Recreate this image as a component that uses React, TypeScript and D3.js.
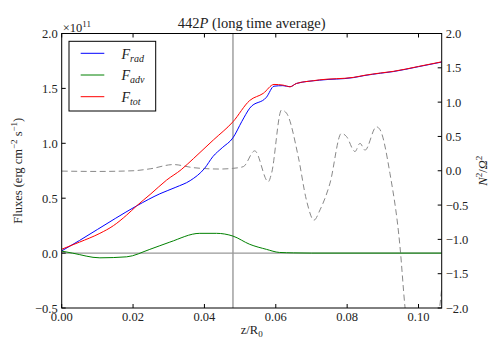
import * as d3 from "d3";

// chart frame
const width = 491;
const height = 343;
const marginTop = 33.5;
const marginRight = 49.3;
const marginBottom = 35;
const marginLeft = 61.7;

const serif = "Liberation Serif, DejaVu Serif, serif";

// data (z / R0, flux in 1e11 erg cm^-2 s^-1)
const zRad = [0, 0.005, 0.01, 0.015, 0.021, 0.0275, 0.032, 0.036, 0.04, 0.0424, 0.045, 0.048, 0.0505, 0.0527, 0.0574, 0.0595, 0.062, 0.064, 0.0658, 0.0723, 0.0817, 0.085, 0.0893, 0.0929, 0.1, 0.1065];
const fRad = [0.02, 0.115, 0.215, 0.315, 0.43, 0.54, 0.6, 0.66, 0.77, 0.88, 0.96, 1.05, 1.2, 1.32, 1.42, 1.52, 1.525, 1.515, 1.545, 1.575, 1.598, 1.618, 1.638, 1.653, 1.698, 1.74];

const zTot = [0, 0.005, 0.0107, 0.0145, 0.0182, 0.021, 0.025, 0.0294, 0.0335, 0.0369, 0.0425, 0.048, 0.0527, 0.0565, 0.0595, 0.062, 0.064, 0.0658, 0.0705, 0.0723, 0.0817, 0.085, 0.0893, 0.0929, 0.1, 0.1065];
const fTot = [0.035, 0.1, 0.18, 0.25, 0.346, 0.43, 0.54, 0.665, 0.76, 0.86, 1.03, 1.196, 1.39, 1.455, 1.536, 1.53, 1.515, 1.545, 1.57, 1.578, 1.6, 1.62, 1.64, 1.655, 1.7, 1.742];

const zAdv = [0, 0.003, 0.0107, 0.0182, 0.0247, 0.0303, 0.0387, 0.0434, 0.048, 0.0527, 0.0574, 0.061, 0.065, 0.07, 0.1065];
const fAdv = [0.018, 0.0, -0.043, -0.034, 0.034, 0.1, 0.18, 0.18, 0.155, 0.08, 0.034, 0.006, 0.002, 0.0, 0.0];

// N^2 / Omega^2, right axis
const zN2 = [0, 0.01, 0.02, 0.025, 0.0313, 0.0369, 0.0443, 0.048, 0.0509, 0.0541, 0.0579, 0.0588, 0.0616, 0.063, 0.0663, 0.0686, 0.0707, 0.0724, 0.0752, 0.0784, 0.0798, 0.0822, 0.0836, 0.085, 0.0882, 0.0892, 0.092, 0.0948, 0.0962, 0.098, 0.102, 0.105, 0.1065];
const n2 = [-0.005, -0.01, 0.0, 0.03, 0.09, 0.045, 0.025, 0.035, 0.06, 0.29, -0.16, -0.04, 0.885, 0.84, 0.205, -0.43, -0.72, -0.57, -0.18, 0.545, 0.5, 0.28, 0.4, 0.3, 0.64, 0.6, -0.04, -1.1, -1.98, -2.7, -3.0, -2.4, -1.72];

const xTicks = [0, 0.02, 0.04, 0.06, 0.08, 0.1];
const yTicks = [-0.5, 0, 0.5, 1.0, 1.5, 2.0];
const y2Ticks = [-2, -1.5, -1, -0.5, 0, 0.5, 1, 1.5, 2];
const zMark = 0.048;

const fmt1 = (v: number) => d3.format(".1f")(v).replace("-", "\u2212");
const fmt2 = (v: number) => d3.format(".2f")(v);

export default function App() {
  const x = d3.scaleLinear().domain([0, 0.1065]).range([marginLeft, width - marginRight]);
  const y = d3.scaleLinear().domain([-0.5, 2.0]).range([height - marginBottom, marginTop]);
  const y2 = d3.scaleLinear().domain([-2, 2]).range([height - marginBottom, marginTop]);

  const line = d3.line<number>().curve(d3.curveMonotoneX);
  const pathOf = (zs: number[], vs: number[], ys: d3.ScaleLinear<number, number>) =>
    line.x((_, i) => x(zs[i])).y((_, i) => ys(vs[i]))(zs) || "";

  const x0 = x.range()[0];
  const x1 = x.range()[1];
  const yB = y.range()[0];
  const yT = y.range()[1];

  return (
    <svg width={width} height={height} style={{ position: "absolute", left: 0, top: 0, fontFamily: serif }}>
      <defs>
        <clipPath id="plot">
          <rect x={x0} y={yT} width={x1 - x0} height={yB - yT} />
        </clipPath>
      </defs>
      <rect width={width} height={height} fill="#fff" />

      <g clipPath="url(#plot)" fill="none">
        <line x1={x0} x2={x1} y1={y(0)} y2={y(0)} stroke="#999" strokeWidth={1.2} />
        <line x1={x(zMark)} x2={x(zMark)} y1={yT} y2={yB} stroke="#999" strokeWidth={1.4} />
        <path d={pathOf(zN2, n2, y2)} stroke="#888" strokeWidth={1} strokeDasharray="6,3.5" />
        <path d={pathOf(zRad, fRad, y)} stroke="#0000ff" strokeWidth={1} />
        <path d={pathOf(zAdv, fAdv, y)} stroke="#008000" strokeWidth={1} />
        <path d={pathOf(zTot, fTot, y)} stroke="#ff0000" strokeWidth={1} />
      </g>

      {/* ticks */}
      <g stroke="#000" strokeWidth={1}>
        {xTicks.map((t) => (
          <g key={"x" + t}>
            <line x1={x(t)} x2={x(t)} y1={yB} y2={yB - 4} />
            <line x1={x(t)} x2={x(t)} y1={yT} y2={yT + 4} />
          </g>
        ))}
        {yTicks.map((t) => (
          <line key={"y" + t} x1={x0} x2={x0 + 4} y1={y(t)} y2={y(t)} />
        ))}
        {y2Ticks.map((t) => (
          <line key={"r" + t} x1={x1} x2={x1 - 4} y1={y2(t)} y2={y2(t)} />
        ))}
      </g>
      <rect x={x0} y={yT} width={x1 - x0} height={yB - yT} fill="none" stroke="#000" strokeWidth={1} />

      <g style={{ fontFamily: serif }} fontSize={12.5} fill="#222">
        {xTicks.map((t) => (
          <text key={"xl" + t} x={x(t)} y={yB + 13} textAnchor="middle">{fmt2(t)}</text>
        ))}
        {yTicks.map((t) => (
          <text key={"yl" + t} x={x0 - 4} y={y(t) + 4.5} textAnchor="end">{fmt1(t)}</text>
        ))}
        {y2Ticks.map((t) => (
          <text key={"rl" + t} x={x1 + 4} y={y2(t) + 4.5} textAnchor="start">{fmt1(t)}</text>
        ))}
        <text x={x0 + 1} y={yT - 2}>
          ×10<tspan fontSize={9} dy={-5}>11</tspan>
        </text>
        <text x={(x0 + x1) / 2} y={yT - 6} textAnchor="middle" fontSize={14.5}>
          442<tspan fontStyle="italic">P</tspan> (long time average)
        </text>
        <text x={(x0 + x1) / 2} y={height - 9} textAnchor="middle">
          z/R<tspan fontSize={9} dy={3}>0</tspan>
        </text>
        <text transform={`translate(22, ${(yT + yB) / 2}) rotate(-90)`} textAnchor="middle">
          Fluxes (erg cm<tspan fontSize={9} dy={-5}>−2</tspan>
          <tspan dy={5}> s</tspan>
          <tspan fontSize={9} dy={-5}>−1</tspan>
          <tspan dy={5}>)</tspan>
        </text>
        <text transform={`translate(487, ${(yT + yB) / 2}) rotate(-90)`} textAnchor="middle" fontStyle="italic">
          N<tspan fontSize={9} dy={-5} fontStyle="normal">2</tspan>
          <tspan dy={5} fontStyle="normal">/</tspan>Ω<tspan fontSize={9} dy={-5} fontStyle="normal">2</tspan>
        </text>
      </g>

      {/* legend */}
      <g style={{ fontFamily: serif }}>
        <rect x={69} y={41.3} width={86.7} height={69.7} fill="#fff" stroke="#000" strokeWidth={1} />
        {[
          { c: "#0000ff", s: "rad" },
          { c: "#008000", s: "adv" },
          { c: "#ff0000", s: "tot" },
        ].map((d, i) => (
          <g key={d.s}>
            <line x1={80.7} x2={104.3} y1={53.3 + i * 21.7} y2={53.3 + i * 21.7} stroke={d.c} strokeWidth={1} />
            <text x={121.5} y={58.5 + i * 21.7} fontSize={14} fontStyle="italic" fill="#222">
              F<tspan fontSize={10} dy={3}>{d.s}</tspan>
            </text>
          </g>
        ))}
      </g>
    </svg>
  );
}
